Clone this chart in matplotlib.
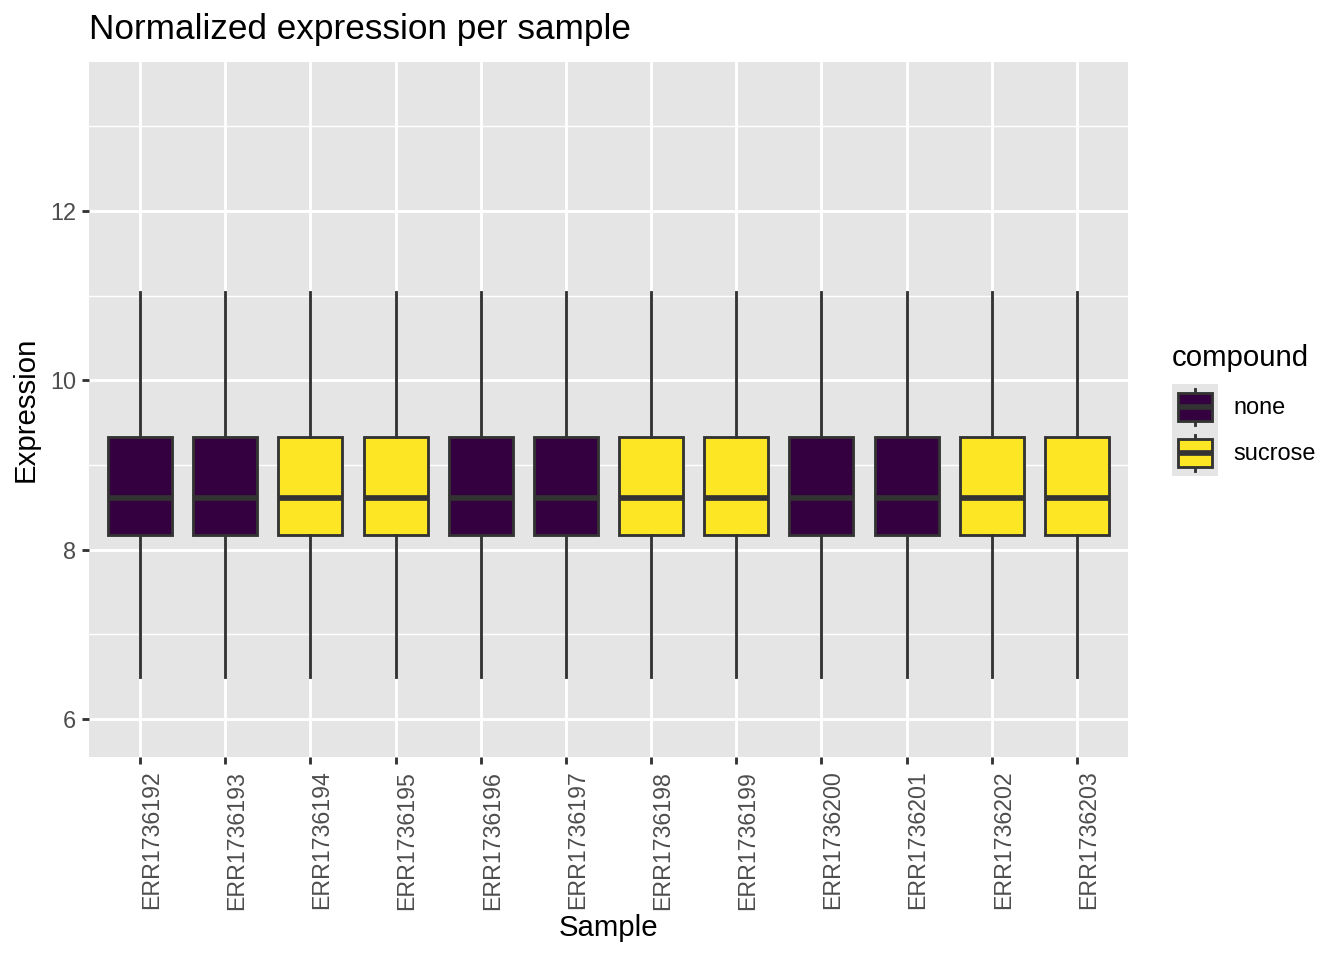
import matplotlib
matplotlib.use("Agg")
import matplotlib.pyplot as plt
import matplotlib.transforms as mtransforms
from matplotlib.patches import Rectangle

plt.rcParams["font.family"] = ["Liberation Sans", "DejaVu Sans"]

samples = ["ERR1736192", "ERR1736193", "ERR1736194", "ERR1736195",
           "ERR1736196", "ERR1736197", "ERR1736198", "ERR1736199",
           "ERR1736200", "ERR1736201", "ERR1736202", "ERR1736203"]
compound = ["none", "none", "sucrose", "sucrose", "none", "none",
            "sucrose", "sucrose", "none", "none", "sucrose", "sucrose"]
whislo = [6.50] * 12
q1 = [8.17] * 12
med = [8.61] * 12
q3 = [9.33] * 12
whishi = [11.04] * 12
y_limits = (5.55, 13.76)
y_ticks = [6, 8, 10, 12]

colors = {"none": "#35003f", "sucrose": "#fde725"}
edge = "#333333"
lw = 1.07

W, H = 1344, 960
fig = plt.figure(figsize=(7, 5), dpi=192)
ax = fig.add_axes([89 / W, 1 - 757 / H, (1128 - 89) / W, (757 - 62) / H])
ax.set_facecolor("#e5e5e5")
for s in ax.spines.values():
    s.set_visible(False)

stats = []
for i in range(len(samples)):
    stats.append({"whislo": whislo[i], "q1": q1[i], "med": med[i],
                  "q3": q3[i], "whishi": whishi[i], "fliers": []})
pos = list(range(1, len(samples) + 1))
bp = ax.bxp(stats, positions=pos, widths=0.75, patch_artist=True,
            showcaps=False, showfliers=False,
            boxprops=dict(edgecolor=edge, linewidth=lw),
            whiskerprops=dict(color=edge, linewidth=lw),
            medianprops=dict(color=edge, linewidth=2 * lw, solid_capstyle="butt"))
for patch, c in zip(bp["boxes"], compound):
    patch.set_facecolor(colors[c])
for art in bp["boxes"] + bp["whiskers"] + bp["medians"]:
    art.set_zorder(3)

ax.set_xlim(0.4, len(samples) + 0.6)
ax.set_ylim(*y_limits)
ax.set_xticks(pos)
ax.set_xticklabels(samples, rotation=90, fontsize=8.7, color="#4d4d4d",
                   ha="left")
shift = mtransforms.ScaledTranslation(-1.5 / 192, 0, fig.dpi_scale_trans)
for lab in ax.get_xticklabels():
    lab.set_transform(lab.get_transform() + shift)
ax.set_yticks(y_ticks)
ax.set_yticklabels([str(t) for t in y_ticks], fontsize=8.8, color="#4d4d4d")
ax.set_yticks([7, 9, 11, 13], minor=True)
ax.tick_params(axis="both", which="major", length=2.75, width=lw,
               color=edge, pad=2.2)
ax.tick_params(axis="x", which="major", pad=2.4)
ax.tick_params(axis="y", which="minor", length=0)
ax.grid(which="major", color="white", linewidth=lw)
ax.grid(which="minor", axis="y", color="white", linewidth=lw / 2)
ax.set_axisbelow(True)

ax.set_xlabel("Sample", fontsize=11, labelpad=1.5)
ax.set_ylabel("Expression", fontsize=11, labelpad=4)
fig.text(89 / W, 1 - 29 / H, "Normalized expression per sample",
         fontsize=13.2, ha="left", va="center")

# legend drawn by hand to mimic ggplot keys
fig.text(1172 / W, 1 - 358 / H, "compound", fontsize=11, ha="left", va="center")
for k, name in enumerate(["none", "sucrose"]):
    top = 384 + 46 * k
    kax = fig.add_axes([1172 / W, 1 - (top + 46) / H, 46 / W, 46 / H])
    kax.set_facecolor("#e5e5e5")
    kax.set_xlim(0, 1)
    kax.set_ylim(0, 1)
    kax.set_xticks([])
    kax.set_yticks([])
    for s in kax.spines.values():
        s.set_visible(False)
    kax.plot([0.5, 0.5], [0.1, 0.9], color=edge, linewidth=lw)
    kax.add_patch(Rectangle((0.12, 0.2), 0.76, 0.6, facecolor=colors[name],
                            edgecolor=edge, linewidth=lw, zorder=3))
    kax.plot([0.12, 0.88], [0.5, 0.5], color=edge, linewidth=2 * lw, zorder=4,
             solid_capstyle="butt")
    fig.text(1233 / W, 1 - (top + 24) / H, name, fontsize=8.8,
             ha="left", va="center")

fig.savefig("out.png", dpi=192)
